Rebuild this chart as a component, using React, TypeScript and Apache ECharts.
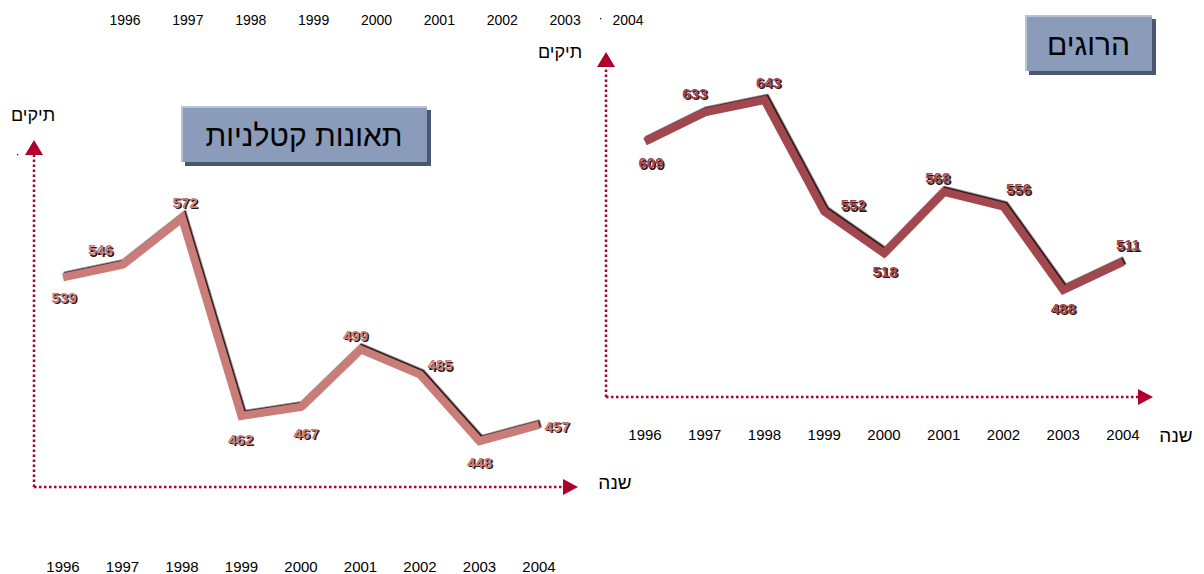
import React, { useEffect, useRef } from "react";
import * as echarts from "echarts";

const years = ["1996", "1997", "1998", "1999", "2000", "2001", "2002", "2003", "2004"];
const fatalAccidents = [539, 546, 572, 462, 467, 499, 485, 448, 457];
const killed = [609, 633, 643, 552, 518, 568, 556, 488, 511];

const leftTitle = "תאונות קטלניות";
const rightTitle = "הרוגים";
const yName = "תיקים";
const xName = "שנה";

// label placement (offset from point, px)
const leftLabelOffsets = [[1, 20], [-22, -15], [3, -16], [-1, 23], [5, 26], [-5, -14], [20, -10], [0, 21], [18, 1]];
const rightLabelOffsets = [[6, 21], [-10, -19], [4, -18], [29, -7], [1, 18], [-6, -14], [15, -18], [0, 18], [5, -17]];

const AXIS_RED = "#b0002c";
const LEFT_COLOR = "#c97c78";
const RIGHT_COLOR = "#a3474f";
const FONT = "'Liberation Sans', Arial, 'DejaVu Sans', sans-serif";

function seriesData(values: number[], offsets: number[][], color: string, shift: number) {
  return values.map((v, i) => ({
    value: v,
    label: {
      show: true,
      position: "inside",
      offset: [offsets[i][0] + shift, offsets[i][1] + shift],
      formatter: "{c}",
      color,
      fontFamily: FONT,
      fontWeight: "bold",
      fontSize: 15,
    },
  }));
}

function lineSeries(axis: number, values: number[], offsets: number[][], color: string) {
  return [
    {
      type: "line",
      xAxisIndex: axis,
      yAxisIndex: axis,
      data: seriesData(values, offsets, "#2a1616", 1.5),
      symbol: "circle",
      symbolSize: 1,
      itemStyle: { color: "rgba(0,0,0,0)" },
      lineStyle: { width: 0, opacity: 0 },
      silent: true,
      z: 4,
    },
    {
      type: "line",
      xAxisIndex: axis,
      yAxisIndex: axis,
      data: seriesData(values, offsets, color, 0),
      symbol: "circle",
      symbolSize: 1,
      itemStyle: { color: "rgba(0,0,0,0)" },
      lineStyle: {
        color, width: 8, join: "miter",
        shadowColor: "#2a1414", shadowOffsetX: 1.5, shadowOffsetY: -1.5, shadowBlur: 0,
      },
      z: 5,
    },
  ];
}

function arrowGraphics(x0: number, yTop: number, yBottom: number, xRight: number) {
  const dash = { stroke: AXIS_RED, lineWidth: 2.5, lineDash: [2.5, 2.5] };
  return [
    { type: "line", shape: { x1: x0, y1: yBottom, x2: x0, y2: yTop + 14 }, style: dash, silent: true },
    { type: "line", shape: { x1: x0, y1: yBottom, x2: xRight, y2: yBottom }, style: dash, silent: true },
    {
      type: "polygon",
      shape: { points: [[x0, yTop], [x0 - 9, yTop + 15], [x0 + 9, yTop + 15]] },
      style: { fill: AXIS_RED },
      silent: true,
    },
    {
      type: "polygon",
      shape: { points: [[xRight + 15, yBottom], [xRight, yBottom - 8], [xRight, yBottom + 8]] },
      style: { fill: AXIS_RED },
      silent: true,
    },
  ];
}

function titleBox(x: number, y: number, w: number, h: number, text: string, size: number) {
  return [
    { type: "rect", shape: { x: x + 4, y: y + 4, width: w, height: h }, style: { fill: "#4b5670" }, silent: true },
    { type: "rect", shape: { x, y, width: w, height: h }, style: { fill: "#8a9cba" }, silent: true },
    { type: "rect", shape: { x, y, width: w, height: 2 }, style: { fill: "#b9c3d6" }, silent: true },
    { type: "rect", shape: { x, y, width: 2, height: h }, style: { fill: "#b9c3d6" }, silent: true },
    {
      type: "text",
      x: x + w / 2,
      y: y + h / 2 + 1,
      style: { text, fill: "#000", fontSize: size, fontFamily: FONT, align: "center", verticalAlign: "middle" },
      silent: true,
    },
  ];
}

function label(x: number, y: number, text: string, size: number) {
  return {
    type: "text",
    x,
    y,
    style: { text, fill: "#000", fontSize: size, fontFamily: FONT, align: "center", verticalAlign: "middle" },
    silent: true,
  };
}

export default function App() {
  const ref = useRef<HTMLDivElement>(null);
  useEffect(() => {
    if (!ref.current) return;
    const chart = echarts.init(ref.current, undefined, { renderer: "svg" });
    const xLabel = { color: "#000", fontFamily: FONT, fontSize: 15 };
    const hiddenY = { show: false, splitLine: { show: false } };
    const catAxis = (gridIndex: number, margin: number, fontSize: number) => ({
      gridIndex, type: "category", data: years, boundaryGap: false,
      axisLine: { show: false }, axisTick: { show: false }, splitLine: { show: false },
      axisLabel: { ...xLabel, fontSize, margin, interval: 0 },
    });
    chart.setOption({
      animation: false,
      backgroundColor: "#ffffff",
      grid: [
        { left: 63, width: 476, top: 203.6, height: 324 },
        { left: 645, width: 478, top: 79.2, height: 318.7 },
        { left: 125, width: 503, top: 5, height: 1 },
      ],
      xAxis: [catAxis(0, 31, 15), catAxis(1, 29, 15), catAxis(2, 7, 14)],
      yAxis: [
        { gridIndex: 0, type: "value", min: 400, max: 580, ...hiddenY },
        { gridIndex: 1, type: "value", min: 400, max: 660, ...hiddenY },
        { gridIndex: 2, type: "value", min: 0, max: 1, ...hiddenY },
      ],
      series: [
        ...lineSeries(0, fatalAccidents, leftLabelOffsets, LEFT_COLOR),
        ...lineSeries(1, killed, rightLabelOffsets, RIGHT_COLOR),
      ],
      graphic: [
        ...arrowGraphics(34, 140, 487, 563),
        ...arrowGraphics(606, 52, 397, 1138),
        ...titleBox(181, 106, 246, 56, leftTitle, 30),
        ...titleBox(1025, 15, 127, 56, rightTitle, 30),
        label(33, 115, yName, 18),
        label(560, 52, yName, 18),
        label(615, 482, xName, 19),
        label(1176, 435, xName, 19),
        { type: "rect", shape: { x: 17, y: 154, width: 1.2, height: 1.2 }, style: { fill: "#000" }, silent: true },
        { type: "rect", shape: { x: 600, y: 18, width: 1.2, height: 1.2 }, style: { fill: "#000" }, silent: true },
      ],
    });
    return () => chart.dispose();
  }, []);
  return (
    <div
      ref={ref}
      style={{ position: "fixed", left: 0, top: 0, width: 1204, height: 574 }}
    />
  );
}
